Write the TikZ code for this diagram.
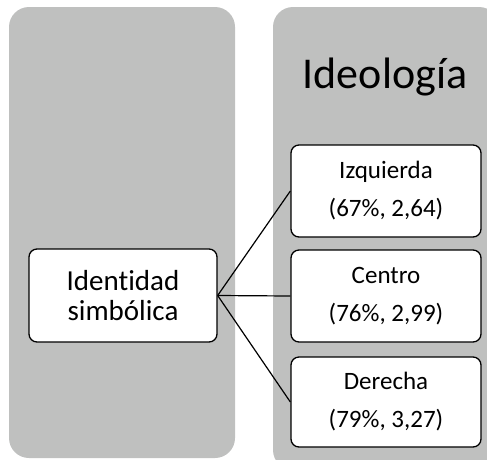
\documentclass[tikz,border=0pt]{standalone}
\usepackage{fontspec}
\setmainfont{Carlito}[Ligatures=NoCommon]
\definecolor{colgray}{RGB}{191,192,191}
\begin{document}
\begin{tikzpicture}[x=1pt, y=-1pt,
  column/.style={fill=colgray, rounded corners=20pt},
  item/.style={draw=black, line width=1.3pt, fill=white, rounded corners=8pt,
    minimum width=190pt, minimum height=92pt, align=center, inner sep=0pt},
  link/.style={line width=1.2pt}]
\useasboundingbox (0,0) rectangle (487,459);
% background columns
\fill[column] (9,7) rectangle (235,458);
\fill[column] (273,7) rectangle (499,470);
\node[anchor=base, font=\fontsize{44}{50}\selectfont] (title) at (385,88) {Ideología};
% boxes
\node[item, minimum width=188pt, minimum height=93pt, font=\fontsize{29}{30}\selectfont] (ident) at (123,295.5) {Identidad\\simbólica};
\node[item, font=\fontsize{25}{38}\selectfont] (izq) at (386,191) {Izquierda\\(67\%, 2,64)};
\node[item, font=\fontsize{25}{38}\selectfont] (cen) at (386,296) {Centro\\(76\%, 2,99)};
\node[item, minimum height=90pt, font=\fontsize{25}{38}\selectfont] (der) at (386,402) {Derecha\\(79\%, 3,27)};
% links
\draw[link] (ident.east) -- (izq.west);
\draw[link] (ident.east) -- (cen.west);
\draw[link] (ident.east) -- (der.west);
\end{tikzpicture}
\end{document}
